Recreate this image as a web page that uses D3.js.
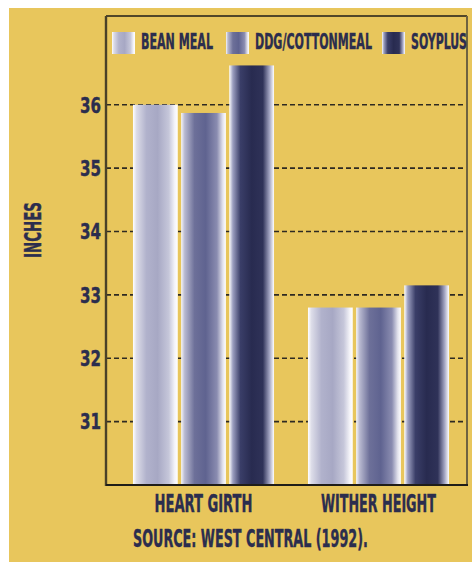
<!DOCTYPE html>
<html>
<head>
<meta charset="utf-8">
<script src="https://cdn.jsdelivr.net/npm/d3@7"></script>
<style>
  html, body { margin: 0; padding: 0; background: #fff; }
  svg { display: block; }
  text { font-family: "DejaVu Sans Condensed", "Liberation Sans Narrow", sans-serif; font-weight: bold; fill: #2b2d4e; stroke: #2b2d4e; stroke-width: 0.4; }
</style>
</head>
<body>
<svg id="chart" width="472" height="562"></svg>
<script>
// data
const categories = ["HEART GIRTH", "WITHER HEIGHT"];
const series = ["BEAN MEAL", "DDG/COTTONMEAL", "SOYPLUS"];
const beanMeal = [36.0, 32.8];
const ddgCottonmeal = [35.87, 32.8];
const soyplus = [36.62, 33.15];
const yTicks = [31, 32, 33, 34, 35, 36];

const values = [beanMeal, ddgCottonmeal, soyplus];

const svg = d3.select("#chart");
const frame = { left: 106, top: 16, right: 467, bottom: 485 };

// squeeze a text horizontally to a given width (condensed poster type)
function fitText(sel, width, anchor) {
    sel.each(function () {
        const t = d3.select(this);
        const w = this.getComputedTextLength();
        const x = +t.attr("x"), yy = +t.attr("y");
        const k = width / w;
        let x0 = x;
        if (anchor === "middle") x0 = x - width / 2;
        if (anchor === "end") x0 = x - width;
        t.attr("text-anchor", "start")
            .attr("x", 0).attr("y", 0)
            .attr("transform", `translate(${x0},${yy}) scale(${k},1)`);
    });
}

// background
svg.append("rect")
    .attr("x", 9).attr("y", 8)
    .attr("width", 463).attr("height", 554)
    .attr("fill", "#e8c65c");

// gradients for the bars (white edges, colour in the middle)
const defs = svg.append("defs");
const gradStops = [
    [["0%", "#ffffff"], ["8%", "#dcdce8"], ["30%", "#b1b2cc"], ["55%", "#a7a8c4"], ["80%", "#c6c7da"], ["93%", "#f3f3f8"], ["100%", "#ffffff"]],
    [["0%", "#f6f6fa"], ["8%", "#b8b9d0"], ["30%", "#6d7099"], ["55%", "#5f6390"], ["80%", "#8a8cb0"], ["93%", "#e2e2ec"], ["100%", "#ffffff"]],
    [["0%", "#ffffff"], ["8%", "#9c9fc0"], ["25%", "#3a3e68"], ["50%", "#282b50"], ["75%", "#2f3258"], ["90%", "#a3a5c2"], ["100%", "#ffffff"]]
];
gradStops.forEach((stops, i) => {
    const g = defs.append("linearGradient")
        .attr("id", "grad" + i)
        .attr("x1", "0%").attr("x2", "100%")
        .attr("y1", "0%").attr("y2", "0%");
    stops.forEach(s => g.append("stop").attr("offset", s[0]).attr("stop-color", s[1]));
});

// scales
const y = d3.scaleLinear().domain([30, 37.4]).range([frame.bottom, frame.top]);
const x0 = d3.scaleBand().domain(categories).range([116, 466])
    .paddingInner(0.194).paddingOuter(0.097);
const x1 = d3.scaleBand().domain(series).range([0, x0.bandwidth()])
    .paddingInner(0.07).paddingOuter(0);

// dashed gridlines
svg.append("g")
    .selectAll("line")
    .data(yTicks)
    .join("line")
    .attr("x1", frame.left).attr("x2", frame.right)
    .attr("y1", d => y(d)).attr("y2", d => y(d))
    .attr("stroke", "#2e2a22")
    .attr("stroke-width", 1.6)
    .attr("stroke-dasharray", "5,3");

// bars
const groups = svg.append("g")
    .selectAll("g")
    .data(categories)
    .join("g")
    .attr("transform", d => `translate(${x0(d)},0)`);

groups.selectAll("rect")
    .data((c, ci) => series.map((s, si) => ({ s, si, v: values[si][ci] })))
    .join("rect")
    .attr("x", d => x1(d.s))
    .attr("width", x1.bandwidth())
    .attr("y", d => y(d.v))
    .attr("height", d => y(30) - y(d.v))
    .attr("fill", d => `url(#grad${d.si})`);

// frame
svg.append("line").attr("x1", frame.left).attr("x2", frame.right)
    .attr("y1", frame.top).attr("y2", frame.top)
    .attr("stroke", "#1f1d18").attr("stroke-width", 1.6);
svg.append("line").attr("x1", frame.right).attr("x2", frame.right)
    .attr("y1", frame.top).attr("y2", frame.bottom)
    .attr("stroke", "#6e6240").attr("stroke-width", 2);
svg.append("line").attr("x1", frame.left).attr("x2", frame.left)
    .attr("y1", frame.top).attr("y2", frame.bottom + 1)
    .attr("stroke", "#4a4128").attr("stroke-width", 2.4);
svg.append("line").attr("x1", frame.left).attr("x2", frame.right + 1)
    .attr("y1", frame.bottom).attr("y2", frame.bottom)
    .attr("stroke", "#1f1d18").attr("stroke-width", 2.2);

// y tick labels
svg.append("g")
    .selectAll("text")
    .data(yTicks)
    .join("text")
    .attr("x", 101)
    .attr("y", d => y(d) + 7.8)
    .attr("font-size", 22)
    .text(d => d)
    .call(fitText, 21, "end");

// y axis title
svg.append("g")
    .attr("transform", "translate(41,230) rotate(-90)")
    .append("text")
    .attr("x", 0).attr("y", 0)
    .attr("font-size", 23)
    .text("INCHES")
    .call(fitText, 56, "middle");

// category labels
const catLen = [98, 115];
svg.append("g")
    .selectAll("text")
    .data(categories)
    .join("text")
    .attr("x", d => x0(d) + x0.bandwidth() / 2)
    .attr("y", 512)
    .attr("font-size", 25)
    .text(d => d)
    .each(function (d, i) { d3.select(this).call(fitText, catLen[i], "middle"); });

// legend
const legendX = [112, 226, 382];
const legendLen = [72, 117, 56];
const legend = svg.append("g")
    .selectAll("g")
    .data(series)
    .join("g")
    .attr("transform", (d, i) => `translate(${legendX[i]},32)`);
legend.append("rect")
    .attr("width", 23).attr("height", 22)
    .attr("fill", (d, i) => `url(#grad${i})`);
legend.append("text")
    .attr("x", 29).attr("y", 16.5)
    .attr("font-size", 21)
    .text(d => d)
    .each(function (d, i) { d3.select(this).call(fitText, legendLen[i], "start"); });

// source note
svg.append("text")
    .attr("x", 133).attr("y", 547)
    .attr("font-size", 24)
    .text("SOURCE: WEST CENTRAL (1992).")
    .call(fitText, 235, "start");
</script>
</body>
</html>
